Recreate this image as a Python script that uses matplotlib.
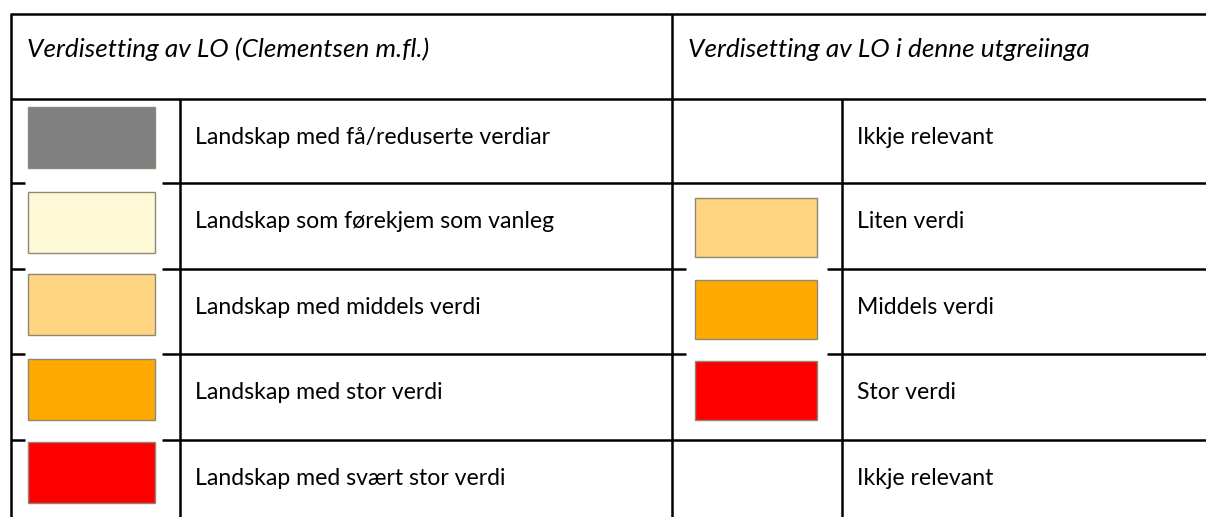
import matplotlib
matplotlib.use("Agg")
from matplotlib import pyplot as plt
from matplotlib.patches import Rectangle

# table content
header_left = "Verdisetting av LO (Clementsen m.fl.)"
header_right = "Verdisetting av LO i denne utgreiinga"

left_labels = [
    "Landskap med få/reduserte verdiar",
    "Landskap som førekjem som vanleg",
    "Landskap med middels verdi",
    "Landskap med stor verdi",
    "Landskap med svært stor verdi",
]
left_colors = ["#808080", "#FDF9D7", "#FFD582", "#FFAA00", "#FF0000"]

right_labels = ["Ikkje relevant", "Liten verdi", "Middels verdi", "Stor verdi", "Ikkje relevant"]
right_colors = [None, "#FFD37F", "#FFAA00", "#FF0000", None]

# layout in pixels (y grows downwards)
W, H = 1206, 517
row_lines = [14, 99, 183, 269, 354, 440]
bottom = 530
x_left, x_lsep, x_mid, x_rsep, x_right = 11, 180, 672, 842, 1220
left_sw_top = [107, 192, 274, 359, 442]
right_sw_top = [None, 198, 280, 361, None]
sw_h = 61
left_sw_x, left_sw_w = 28, 127
right_sw_x, right_sw_w = 695, 122
left_gap = (25, 162)
right_gap = (686, 827)

FONT = "Lato"
fsize = 16.6
hsize = 18.8
lw = 1.8

fig = plt.figure(figsize=(W / 100, H / 100), dpi=100)
ax = fig.add_axes([0, 0, 1, 1])
ax.set_xlim(0, W)
ax.set_ylim(H, 0)
ax.axis("off")


def hline(y, x0, x1):
    ax.plot([x0, x1], [y, y], color="black", lw=lw, solid_capstyle="butt")


def vline(x, y0, y1):
    ax.plot([x, x], [y0, y1], color="black", lw=lw, solid_capstyle="butt")


# outer and header lines
hline(row_lines[0], x_left - 1, x_right)
hline(row_lines[1], x_left, x_right)
vline(x_left, row_lines[0], bottom)
vline(x_mid, row_lines[0], bottom)
vline(x_lsep, row_lines[1], bottom)
vline(x_rsep, row_lines[1], bottom)

# row lines, interrupted where two swatches meet
for i, y in enumerate(row_lines[2:]):
    hline(y, x_left, left_gap[0])
    hline(y, left_gap[1], x_mid)
    if right_colors[i] is not None and right_colors[i + 1] is not None:
        hline(y, x_mid, right_gap[0])
        hline(y, right_gap[1], x_right)
    else:
        hline(y, x_mid, x_right)

# headers
ax.text(x_left + 16, row_lines[0] + 43, header_left, fontsize=hsize, style="italic",
        family=FONT, va="baseline", ha="left")
ax.text(x_mid + 16, row_lines[0] + 43, header_right, fontsize=hsize, style="italic",
        family=FONT, va="baseline", ha="left")

for i in range(len(left_labels)):
    top = row_lines[i + 1]
    ax.add_patch(Rectangle((left_sw_x, left_sw_top[i]), left_sw_w, sw_h,
                           facecolor=left_colors[i], edgecolor="#8e8878", lw=1.0))
    ax.text(x_lsep + 15, top + 45, left_labels[i], fontsize=fsize, family=FONT,
            va="baseline", ha="left")
    if right_colors[i] is not None:
        ax.add_patch(Rectangle((right_sw_x, right_sw_top[i]), right_sw_w, sw_h - 2,
                               facecolor=right_colors[i], edgecolor="#8e8878", lw=1.0))
    ax.text(x_rsep + 15, top + 45, right_labels[i], fontsize=fsize, family=FONT,
            va="baseline", ha="left")

fig.savefig("out.png", dpi=100)
